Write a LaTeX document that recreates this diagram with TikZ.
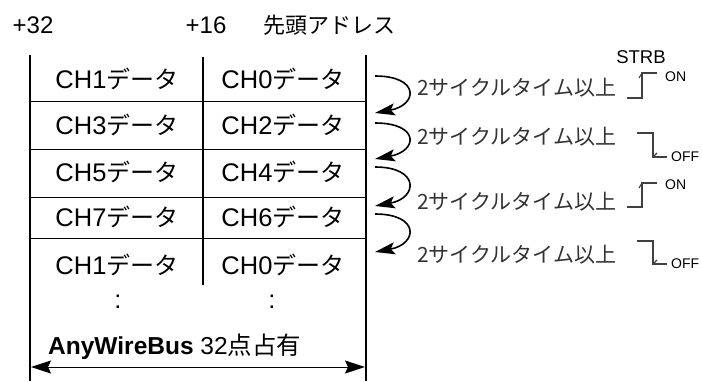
\documentclass[tikz,border=0pt]{standalone}
\usepackage{fontspec}
\setmainfont{Liberation Sans}
\newfontfamily\jp{Noto Sans CJK JP}
\usetikzlibrary{arrows,arrows.meta,positioning,shapes}

\begin{document}
\begin{tikzpicture}[
    x = 1pt, y = -1pt,
    cell/.style = {font=\fontsize{25.5}{28}\selectfont, inner sep=0pt},
    note/.style = {font=\jp\fontsize{21}{24}\selectfont, text=black!80, anchor=west, inner sep=0pt},
    level/.style = {font=\fontsize{14}{16}\selectfont, anchor=west, inner sep=0pt},
    rule/.style = {line width=1.2pt},
    sig/.style = {line width=1.1pt, black!75},
    turn/.style = {-{Stealth[length=20pt, width=12pt, inset=4pt]}, line width=1.6pt},
    span/.style = {{Stealth[length=20pt, width=13pt, inset=3pt]}-{Stealth[length=20pt, width=13pt, inset=3pt]}, line width=1pt}
]
\useasboundingbox (0,0) rectangle (702,381);

% Address header
\node[cell, font=\fontsize{24}{28}\selectfont] (a32) at (33,25) {+32};
\node[cell, font=\fontsize{24}{28}\selectfont] (a16) at (206,25) {+16};
\node[cell, anchor=west, font=\fontsize{22}{26}\selectfont] (head) at (263,25) {\jp 先頭アドレス};

% Table frame
\coordinate (tl) at (30,55);
\coordinate (bl) at (30,381);
\coordinate (tm) at (203,57);
\coordinate (bm) at (203,285);
\coordinate (tr) at (366,55);
\coordinate (br) at (366,381);
\draw[rule] (tl) -- (bl);
\draw[rule] (tm) -- (bm);
\draw[rule] (tr) -- (br);
\foreach \y [count=\i] in {101,149,197,238} {
    \coordinate (hl\i) at (30,\y);
    \coordinate (hr\i) at (366,\y);
    \draw[line width=1pt] (hl\i) -- (hr\i);
}

% Channel data
\foreach \l/\r/\y [count=\i] in {1/0/79, 3/2/125, 5/4/172, 7/6/217, 1/0/265} {
    \node[cell] (lc\i) at (117,\y) {CH\l{\jp\fontsize{24}{28}\selectfont データ}};
    \node[cell] (rc\i) at (283,\y) {CH\r{\jp\fontsize{24}{28}\selectfont データ}};
}
\node[cell] (dl) at (118,302) {:};
\node[cell] (dr) at (272,302) {:};

% Bus width
\node[cell, anchor=west, font=\fontsize{24.5}{28}\selectfont] (bus) at (48,347) {\textbf{AnyWireBus} 32{\jp 点占有}};
\coordinate (wl) at (31,367);
\coordinate (wr) at (365,367);
\draw[span] (wl) -- (wr);

% Cycle steps
\foreach \s/\e/\t [count=\i] in {76/113/88, 123/159/137, 167/206/202, 214/252/255} {
    \coordinate (s\i) at (375,\s);
    \coordinate (e\i) at (375,\e);
    \draw[turn] (s\i) .. controls +(45,0) and +(43,-8) .. (e\i);
    \node[note] (n\i) at (417,\t) {2サイクルタイム以上};
}

% STRB signal
\node[font=\fontsize{18.5}{20}\selectfont, inner sep=0pt] (strb) at (641,57) {STRB};
\foreach \lo/\hi/\o [count=\i] in {98/73/77, 207/183/185} {
    \coordinate (on\i a) at (627,\lo);
    \coordinate (on\i b) at (642,\lo);
    \coordinate (on\i c) at (642,\hi);
    \coordinate (on\i d) at (657,\hi);
    \draw[sig] (on\i a) -- (on\i b) -- (on\i c) -- (on\i d);
    \draw[sig] (on\i c) -- ++(-3,5);
    \node[level] (onl\i) at (665,\o) {ON};
}
\foreach \hi/\lo [count=\i] in {133/157, 241/264} {
    \coordinate (off\i a) at (637,\hi);
    \coordinate (off\i b) at (653,\hi);
    \coordinate (off\i c) at (653,\lo);
    \coordinate (off\i d) at (667,\lo);
    \draw[sig] (off\i a) -- (off\i b) -- (off\i c) -- (off\i d);
    \draw[sig] (off\i c) -- ++(4,-4);
    \node[level] (offl\i) at (671,\lo) {OFF};
}

\end{tikzpicture}
\end{document}
